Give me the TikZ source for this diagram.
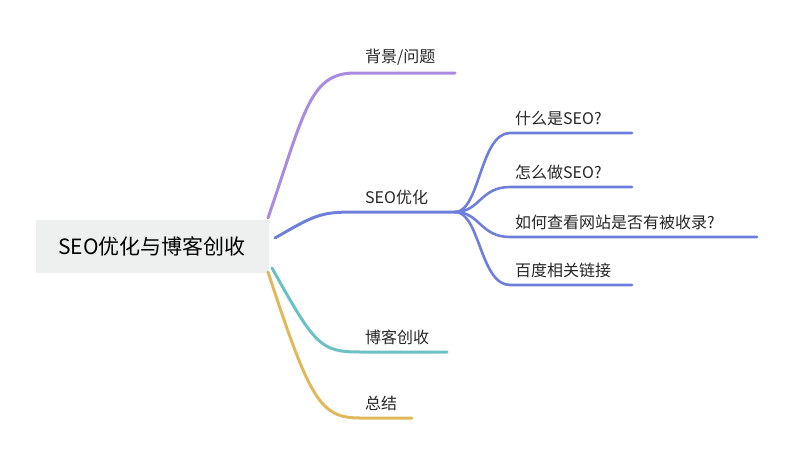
\documentclass[tikz,border=0pt]{standalone}
\usepackage{fontspec}
\setmainfont{Noto Sans CJK SC}
\usepackage{tikz}
\definecolor{cpurple}{HTML}{A98BE0}
\definecolor{cblue}{HTML}{6E7FDB}
\definecolor{cteal}{HTML}{6CC2C2}
\definecolor{cyellow}{HTML}{E0B95C}
\definecolor{cbox}{HTML}{EEF0F0}
\tikzset{
  branch/.style={line width=3pt, line cap=round},
  twig/.style={line width=2.6pt, line cap=round, cblue},
  lbl/.style={anchor=south west, inner sep=2pt, font=\fontsize{16}{16}\selectfont, text=black!85}
}
\begin{document}
\begin{tikzpicture}[x=1pt,y=-1pt]
        \useasboundingbox (0,0) rectangle (806,463);
        %% root
        \node[fill=cbox, minimum width=233pt, minimum height=53pt, font=\fontsize{21}{21}\selectfont] (root) at (152,246) {SEO优化与博客创收};
        %% branch points
        \coordinate (p1) at (355,73);  \coordinate (e1) at (455,73);
        \coordinate (p2) at (355,212); \coordinate (e2) at (455,212);
        \coordinate (p3) at (360,352); \coordinate (e3) at (447,352);
        \coordinate (p4) at (360,418); \coordinate (e4) at (412,418);
        \coordinate (q1) at (510,133); \coordinate (f1) at (632,133);
        \coordinate (q2) at (510,187); \coordinate (f2) at (632,187);
        \coordinate (q3) at (510,237); \coordinate (f3) at (757,237);
        \coordinate (q4) at (510,285); \coordinate (f4) at (632,285);
        %% main branches
        \draw[branch, cpurple] (268,218) .. controls (305,110) and (310,73) .. (p1) -- (e1);
        \draw[branch, cblue] (275,238) .. controls (315,215) and (320,212) .. (p2) -- (e2);
        \draw[branch, cteal] (272,268) .. controls (315,345) and (320,352) .. (p3) -- (e3);
        \draw[branch, cyellow] (268,272) .. controls (310,400) and (320,418) .. (p4) -- (e4);
        %% sub branches
        \foreach \i in {1,...,4}
          \draw[twig] (e2) .. controls (480,212) and (480,{\ifcase\i\or133\or187\or237\or285\fi}) .. (q\i) -- (f\i);
        %% labels
        \node[lbl] (t1) at (363,68) {背景/问题};
        \node[lbl] (t2) at (363,207) {SEO优化};
        \node[lbl] (t3) at (363,347) {博客创收};
        \node[lbl] (t4) at (363,413) {总结};
        \node[lbl] (s1) at (513,128) {什么是SEO?};
        \node[lbl] (s2) at (513,182) {怎么做SEO?};
        \node[lbl] (s3) at (513,232) {如何查看网站是否有被收录?};
        \node[lbl] (s4) at (513,280) {百度相关链接};
    \end{tikzpicture}
\end{document}
